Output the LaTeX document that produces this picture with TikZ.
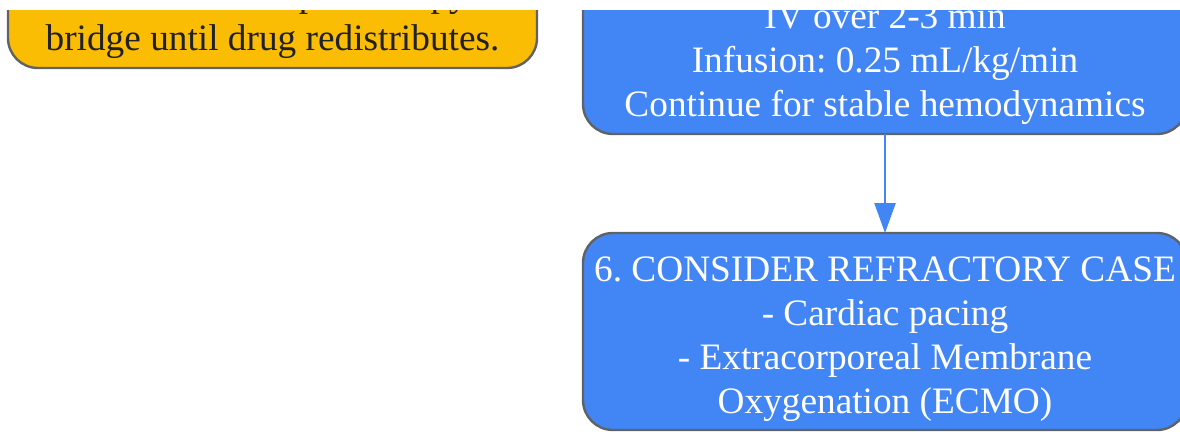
\documentclass[tikz,border=0pt]{standalone}
\usepackage{fontspec}
\setmainfont{Liberation Serif}
\usetikzlibrary{arrows.meta}
\definecolor{gyellow}{HTML}{FBBC04}
\definecolor{gblue}{HTML}{4285F4}
\definecolor{gborder}{HTML}{5F6368}
\definecolor{gtext}{HTML}{202124}
\frenchspacing
\begin{document}
\begin{tikzpicture}[x=1pt,y=-1pt,
  box/.style={draw=gborder, line width=2.4pt, rounded corners=30pt, inner sep=0pt, outer sep=0pt},
  notebox/.style={box, fill=gyellow},
  stepbox/.style={box, fill=gblue},
  txt/.style={inner sep=0pt, anchor=base, font=\fontsize{37.3pt}{44pt}\selectfont},
  txtw/.style={txt, text=white},
  txtd/.style={txt, text=gtext},
  conn/.style={draw=gblue, line width=2.4pt, -{Triangle[length=30pt,width=21pt]}}]
\useasboundingbox (0,0) rectangle (1180,431);
\begin{scope}
\clip (0,10) rectangle (1180,431);
% boxes
\node[notebox, minimum width=529pt, minimum height=268pt, anchor=south] (note) at (272.5,68) {};
\node[stepbox, minimum width=604pt, minimum height=300pt, anchor=south] (dose) at (885,134) {};
\node[stepbox, minimum width=604pt, minimum height=197pt, anchor=north] (refr) at (885,233) {};
% texts
\node[txtd] (n1) at (272.5,6) {Continue the lipid therapy};
\node[txtd] (n2) at (272.5,50) {bridge until drug redistributes.};
\node[txtw] (d1) at (885,28) {IV over 2-3 min};
\node[txtw] (d2) at (885,72) {Infusion: 0.25 mL/kg/min};
\node[txtw] (d3) at (885,116) {Continue for stable hemodynamics};
\node[txtw] (r1) at (885,281) {6. CONSIDER REFRACTORY CASE};
\node[txtw] (r2) at (885,325) {- Cardiac pacing};
\node[txtw] (r3) at (885,369) {- Extracorporeal Membrane};
\node[txtw] (r4) at (885,413) {Oxygenation (ECMO)};
% connector
\draw[conn] (dose.south) -- (refr.north);
\end{scope}
\end{tikzpicture}
\end{document}
